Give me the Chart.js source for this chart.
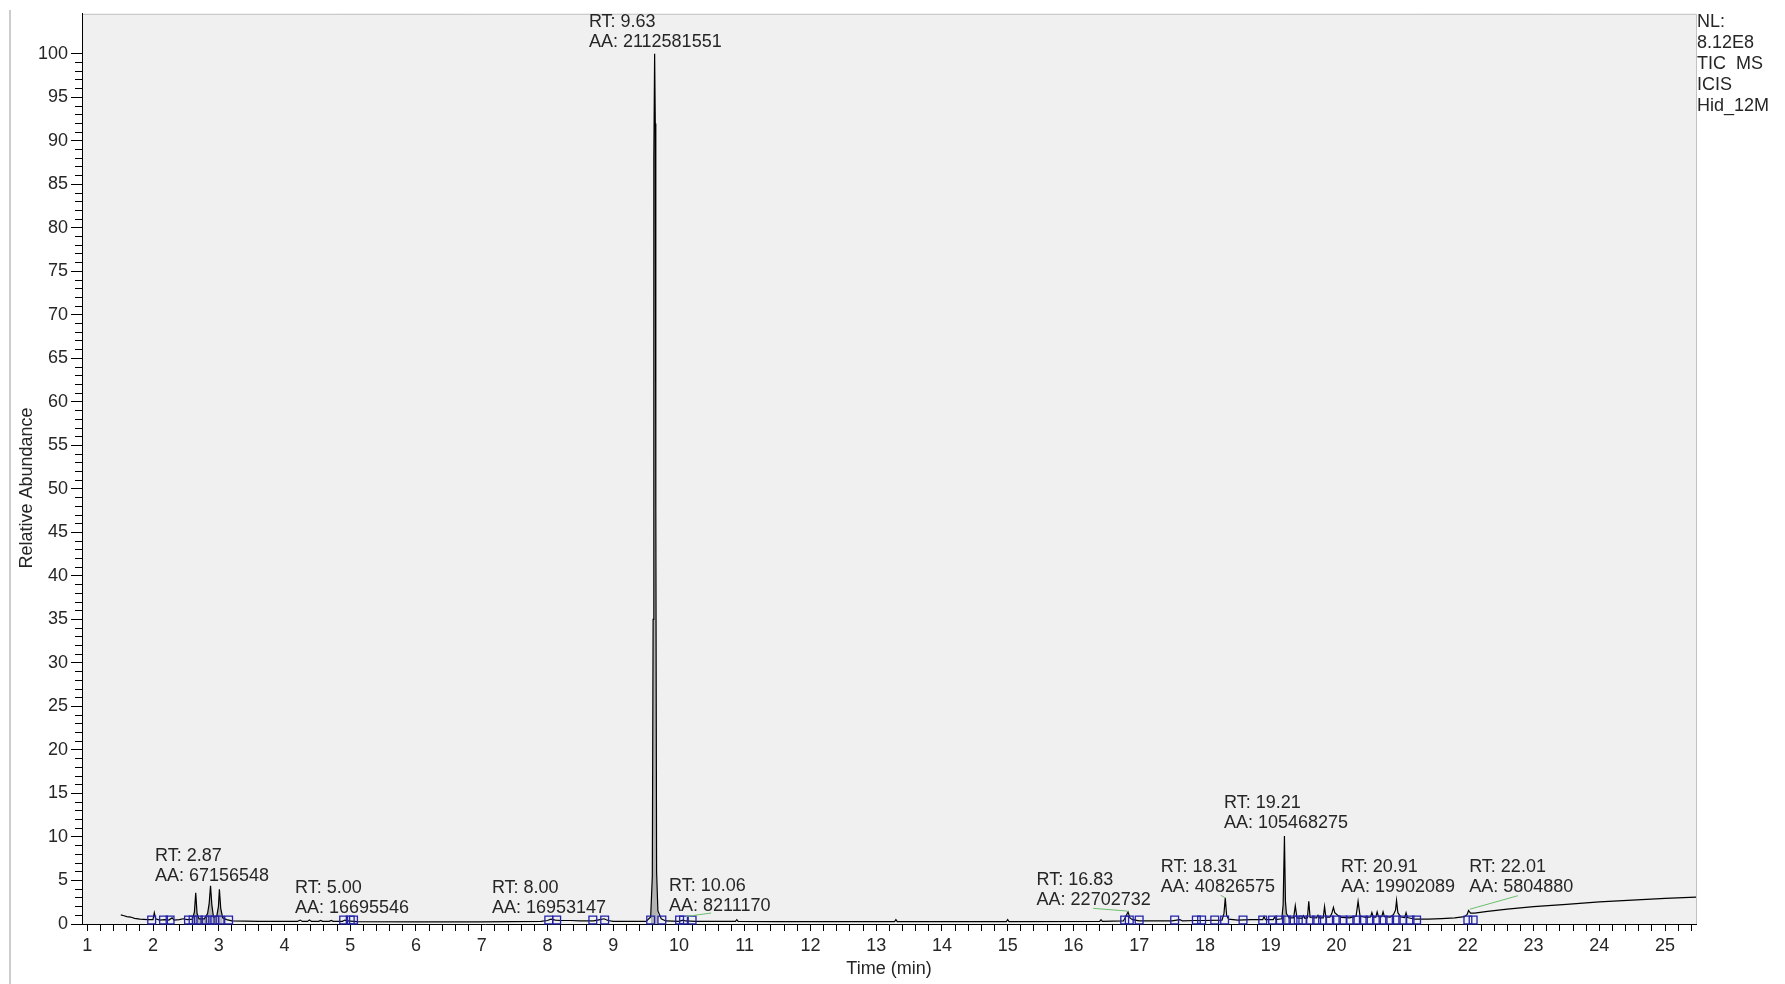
<!DOCTYPE html>
<html>
<head>
<meta charset="utf-8">
<title>TIC MS - Hid_12M</title>
<script src="https://cdn.jsdelivr.net/npm/chart.js@4.4.1/dist/chart.umd.min.js"></script>
<style>
  html, body { margin: 0; padding: 0; background: #fff; }
  #wrap { position: relative; width: 1785px; height: 984px; }
</style>
</head>
<body>
<div id="wrap"><canvas id="tic"></canvas></div>
<script>
/* =====================
   DATA
   ===================== */
const times = [
  1.51, 1.56, 1.60, 1.66, 1.72, 1.80, 1.92, 2.00, 2.02, 2.04, 2.10, 2.18, 2.24, 2.29, 2.32,
  2.40, 2.46, 2.52, 2.60, 2.63, 2.65, 2.67, 2.70, 2.78, 2.83, 2.855, 2.875, 2.895, 2.92, 2.97,
  2.995, 3.01, 3.03, 3.06, 3.12, 3.20, 3.60, 4.20, 4.24, 4.27, 4.35, 4.38, 4.41, 4.52, 4.55,
  4.58, 4.68, 4.71, 4.74, 4.88, 4.92, 4.96, 5.10, 6.00, 7.00, 7.90, 8.00, 8.05, 8.12, 8.20,
  8.35, 8.50, 8.70, 8.80, 8.86, 8.92, 9.00, 9.50, 9.57, 9.595, 9.607, 9.618, 9.63, 9.64, 9.648,
  9.66, 9.68, 9.73, 9.80, 10.00, 10.06, 10.10, 10.25, 10.86, 10.88, 10.90, 11.50, 12.50, 13.28, 13.30,
  13.32, 14.30, 14.98, 15.00, 15.02, 16.40, 16.42, 16.44, 16.76, 16.80, 16.83, 16.86, 16.90, 17.00, 17.50,
  17.62, 17.66, 17.85, 18.00, 18.26, 18.29, 18.31, 18.33, 18.36, 18.50, 18.70, 18.88, 18.90, 18.92, 19.04,
  19.06, 19.08, 19.17, 19.19, 19.21, 19.225, 19.24, 19.28, 19.35, 19.375, 19.40, 19.48, 19.50, 19.52, 19.56,
  19.58, 19.60, 19.70, 19.72, 19.74, 19.80, 19.82, 19.84, 19.90, 19.93, 19.955, 19.975, 20.02, 20.08, 20.20,
  20.30, 20.33, 20.36, 20.45, 20.52, 20.54, 20.56, 20.60, 20.62, 20.64, 20.69, 20.71, 20.73, 20.82, 20.87,
  20.90, 20.915, 20.935, 20.98, 21.04, 21.06, 21.08, 21.20, 21.40, 21.60, 21.80, 21.95, 21.99, 22.01, 22.04,
  22.10, 22.30, 22.60, 23.00, 23.50, 24.00, 24.50, 25.00, 25.47
];
const abundance = [
  1.05, 0.95, 0.85, 0.8, 0.65, 0.55, 0.5, 0.5, 1.3, 0.6, 0.45, 0.5, 0.45, 0.7, 0.45,
  0.5, 0.6, 0.5, 0.55, 1.4, 3.6, 1.2, 0.6, 0.6, 1.2, 2.4, 4.4, 2.2, 0.8, 0.9,
  2.0, 4.0, 1.8, 0.7, 0.5, 0.35, 0.3, 0.3, 0.45, 0.3, 0.3, 0.45, 0.3, 0.3, 0.42,
  0.3, 0.3, 0.42, 0.3, 0.3, 0.45, 0.35, 0.28, 0.25, 0.25, 0.3, 0.4, 0.55, 0.45, 0.4,
  0.4, 0.35, 0.35, 0.5, 0.6, 0.4, 0.3, 0.3, 0.8, 5.5, 35, 88, 100, 92, 48,
  6, 1.5, 0.6, 0.35, 0.3, 0.45, 0.35, 0.3, 0.3, 0.5, 0.3, 0.28, 0.28, 0.28, 0.5,
  0.28, 0.28, 0.28, 0.5, 0.28, 0.3, 0.5, 0.3, 0.35, 0.9, 1.4, 0.7, 0.5, 0.35, 0.35,
  0.5, 0.35, 0.4, 0.4, 0.45, 1.2, 3.0, 1.0, 0.55, 0.45, 0.5, 0.5, 0.85, 0.5, 0.5,
  0.8, 0.5, 0.6, 2.2, 10.1, 2.6, 1.2, 0.7, 0.7, 2.1, 0.7, 0.65, 0.95, 0.65, 0.7,
  2.6, 0.75, 0.7, 1.0, 0.7, 0.7, 2.0, 0.8, 0.8, 1.2, 1.9, 1.3, 1.0, 0.75, 0.7,
  0.9, 2.6, 0.9, 0.75, 0.8, 1.3, 0.8, 0.8, 1.4, 0.85, 0.85, 1.4, 0.85, 0.8, 1.1,
  1.6, 2.7, 1.3, 0.8, 0.75, 1.3, 0.75, 0.55, 0.55, 0.62, 0.7, 0.85, 1.1, 1.55, 1.25,
  1.25, 1.45, 1.7, 2.0, 2.25, 2.55, 2.75, 2.95, 3.1
];

// peak start / end boxes (blue squares on the baseline)
const markerTimes = [
  1.98, 2.16, 2.26, 2.54, 2.61, 2.69, 2.79, 2.87, 2.94, 3.02, 3.15,
  4.90, 5.00, 5.05,
  8.02, 8.14, 8.69, 8.87,
  9.57, 9.74, 10.01, 10.07, 10.20,
  16.78, 16.85, 17.00,
  17.54, 17.87, 17.95, 18.15, 18.30, 18.58, 18.88, 19.03, 19.14, 19.24, 19.34, 19.42, 19.49,
  19.60, 19.70, 19.79, 19.90, 20.00, 20.10, 20.21, 20.31, 20.41, 20.51, 20.61, 20.71, 20.81,
  20.91, 21.01, 21.12, 21.22,
  22.00, 22.08
];
const markerLevel = 0.45;

// labelled peaks
const peakRT   = ['2.87', '5.00', '8.00', '9.63', '10.06', '16.83', '18.31', '19.21', '20.91', '22.01'];
const peakArea = ['67156548', '16695546', '16953147', '2112581551', '8211170',
                  '22702732', '40826575', '105468275', '19902089', '5804880'];

// integrated peaks shaded grey
const shadeWindows = [[2.60, 3.08], [9.55, 9.72], [19.17, 19.26]];

const infoLines = ['NL:', '8.12E8', 'TIC  MS', 'ICIS', 'Hid_12M'];

/* === LAYOUT OF THE ANNOTATIONS (data units) === */
// left edge of label text, middle of the "RT:" line
const labelAnchor = [
  [2.03, 7.8], [4.16, 4.08], [7.155, 4.13], [8.63, 103.6], [9.85, 4.36],
  [15.44, 5.05], [17.33, 6.6], [18.29, 13.9], [20.07, 6.54], [22.02, 6.54]
];
// thin green leader lines from label to peak
const leaders = [
  [[10.11, 0.87], [10.49, 1.26]],
  [[16.30, 1.80], [16.80, 1.50], [16.83, 1.40]],
  [[18.24, 3.30], [18.31, 3.00]],
  [[22.03, 1.70], [22.76, 3.25]]
];

/* === BUILD DATASETS === */
const trace = times.map((t, i) => ({ x: t, y: abundance[i] }));
const markers = markerTimes.map(t => ({ x: t, y: markerLevel }));

const shadeSets = shadeWindows.map(w => ({
  data: trace.filter(p => p.x >= w[0] && p.x <= w[1]),
  borderWidth: 0,
  pointRadius: 0,
  fill: 'origin',
  backgroundColor: 'rgba(140,140,140,0.6)'
}));

const FONT = 'Liberation Sans, Arial, sans-serif';
const TXT = '#262626';
Chart.defaults.font.family = FONT;
Chart.defaults.font.size = 18;
Chart.defaults.color = TXT;

const decor = {
  id: 'decor',
  beforeDraw(chart) {
    const { ctx, chartArea: a } = chart;
    ctx.save();
    ctx.fillStyle = '#f0f0f0';
    ctx.fillRect(a.left, a.top, a.right - a.left, a.bottom - a.top);
    ctx.strokeStyle = '#c2c2c2';
    ctx.lineWidth = 1;
    ctx.beginPath();
    ctx.moveTo(a.left, a.top + 0.5);
    ctx.lineTo(a.right + 0.5, a.top + 0.5);
    ctx.lineTo(a.right + 0.5, a.bottom);
    ctx.stroke();
    // window edge at far left
    ctx.strokeStyle = '#cdcdcd';
    ctx.lineWidth = 2;
    ctx.beginPath();
    ctx.moveTo(10, 10);
    ctx.lineTo(10, chart.height);
    ctx.stroke();
    ctx.restore();
  },
  afterDraw(chart) {
    const { ctx, chartArea: a } = chart;
    const xs = chart.scales.x, ys = chart.scales.y;
    ctx.save();

    // leader lines
    ctx.strokeStyle = '#6cbf6c';
    ctx.lineWidth = 1;
    leaders.forEach(pts => {
      ctx.beginPath();
      pts.forEach((p, i) => {
        const px = xs.getPixelForValue(p[0]), py = ys.getPixelForValue(p[1]);
        if (i === 0) ctx.moveTo(px, py); else ctx.lineTo(px, py);
      });
      ctx.stroke();
    });

    // RT / AA labels
    ctx.fillStyle = TXT;
    ctx.font = '18px ' + FONT;
    ctx.textAlign = 'left';
    ctx.textBaseline = 'middle';
    peakRT.forEach((rt, i) => {
      const px = xs.getPixelForValue(labelAnchor[i][0]);
      const py = ys.getPixelForValue(labelAnchor[i][1]);
      ctx.fillText('RT: ' + rt, px, py);
      ctx.fillText('AA: ' + peakArea[i], px, py + 20);
    });

    // header info at the right
    infoLines.forEach((s, i) => ctx.fillText(s, a.right + 1, a.top + 8 + i * 21));

    // y title
    ctx.translate(27, 488);
    ctx.rotate(-Math.PI / 2);
    ctx.textAlign = 'center';
    ctx.fillText('Relative Abundance', 0, 0);
    ctx.restore();
  }
};

const chart = new Chart(document.getElementById('tic'), {
  type: 'line',
  data: {
    datasets: [
      {
        data: markers,
        showLine: false,
        pointStyle: 'rect',
        pointRadius: 5.5,
        pointBorderWidth: 1.3,
        pointBorderColor: '#2222aa',
        pointBackgroundColor: 'rgba(0,0,0,0)',
        clip: false
      },
      {
        data: trace,
        borderColor: '#000',
        borderWidth: 1.2,
        pointRadius: 0,
        tension: 0,
        fill: false
      },
      ...shadeSets
    ]
  },
  options: {
    responsive: true,
    maintainAspectRatio: false,
    animation: false,
    events: [],
    layout: { padding: { top: 13, right: 89, left: 0, bottom: 0 } },
    plugins: { legend: { display: false }, tooltip: { enabled: false } },
    scales: {
      x: {
        type: 'linear',
        min: 0.92,
        max: 25.47,
        afterFit(s) { s.height = 60; },
        border: { color: '#000', width: 1 },
        grid: { drawOnChartArea: false, tickLength: 7, color: '#000', tickColor: '#000' },
        ticks: {
          stepSize: 0.2,
          autoSkip: false,
          maxRotation: 0,
          includeBounds: false,
          padding: 4,
          color: TXT,
          callback: v => Math.abs(v - Math.round(v)) < 1e-6 ? String(Math.round(v)) : ''
        },
        title: { display: true, text: 'Time (min)', color: TXT, padding: { top: 0, bottom: 4 } }
      },
      y: {
        min: 0,
        max: 104.6,
        afterFit(s) { s.width = 82; },
        border: { color: '#000', width: 1 },
        grid: {
          drawOnChartArea: false,
          tickLength: 11,
          color: '#000',
          tickColor: c => (c.tick && c.tick.value > 100) ? 'rgba(0,0,0,0)' : '#000',
          tickBorderDash: c => (c.tick && c.tick.value % 5 === 0) ? [] : [0, 4, 7, 100]
        },
        ticks: {
          stepSize: 1,
          autoSkip: false,
          includeBounds: false,
          padding: 3,
          color: TXT,
          callback: v => (v % 5 === 0 && v <= 100) ? String(v) : ''
        }
      }
    }
  },
  plugins: [decor]
});
</script>
</body>
</html>
